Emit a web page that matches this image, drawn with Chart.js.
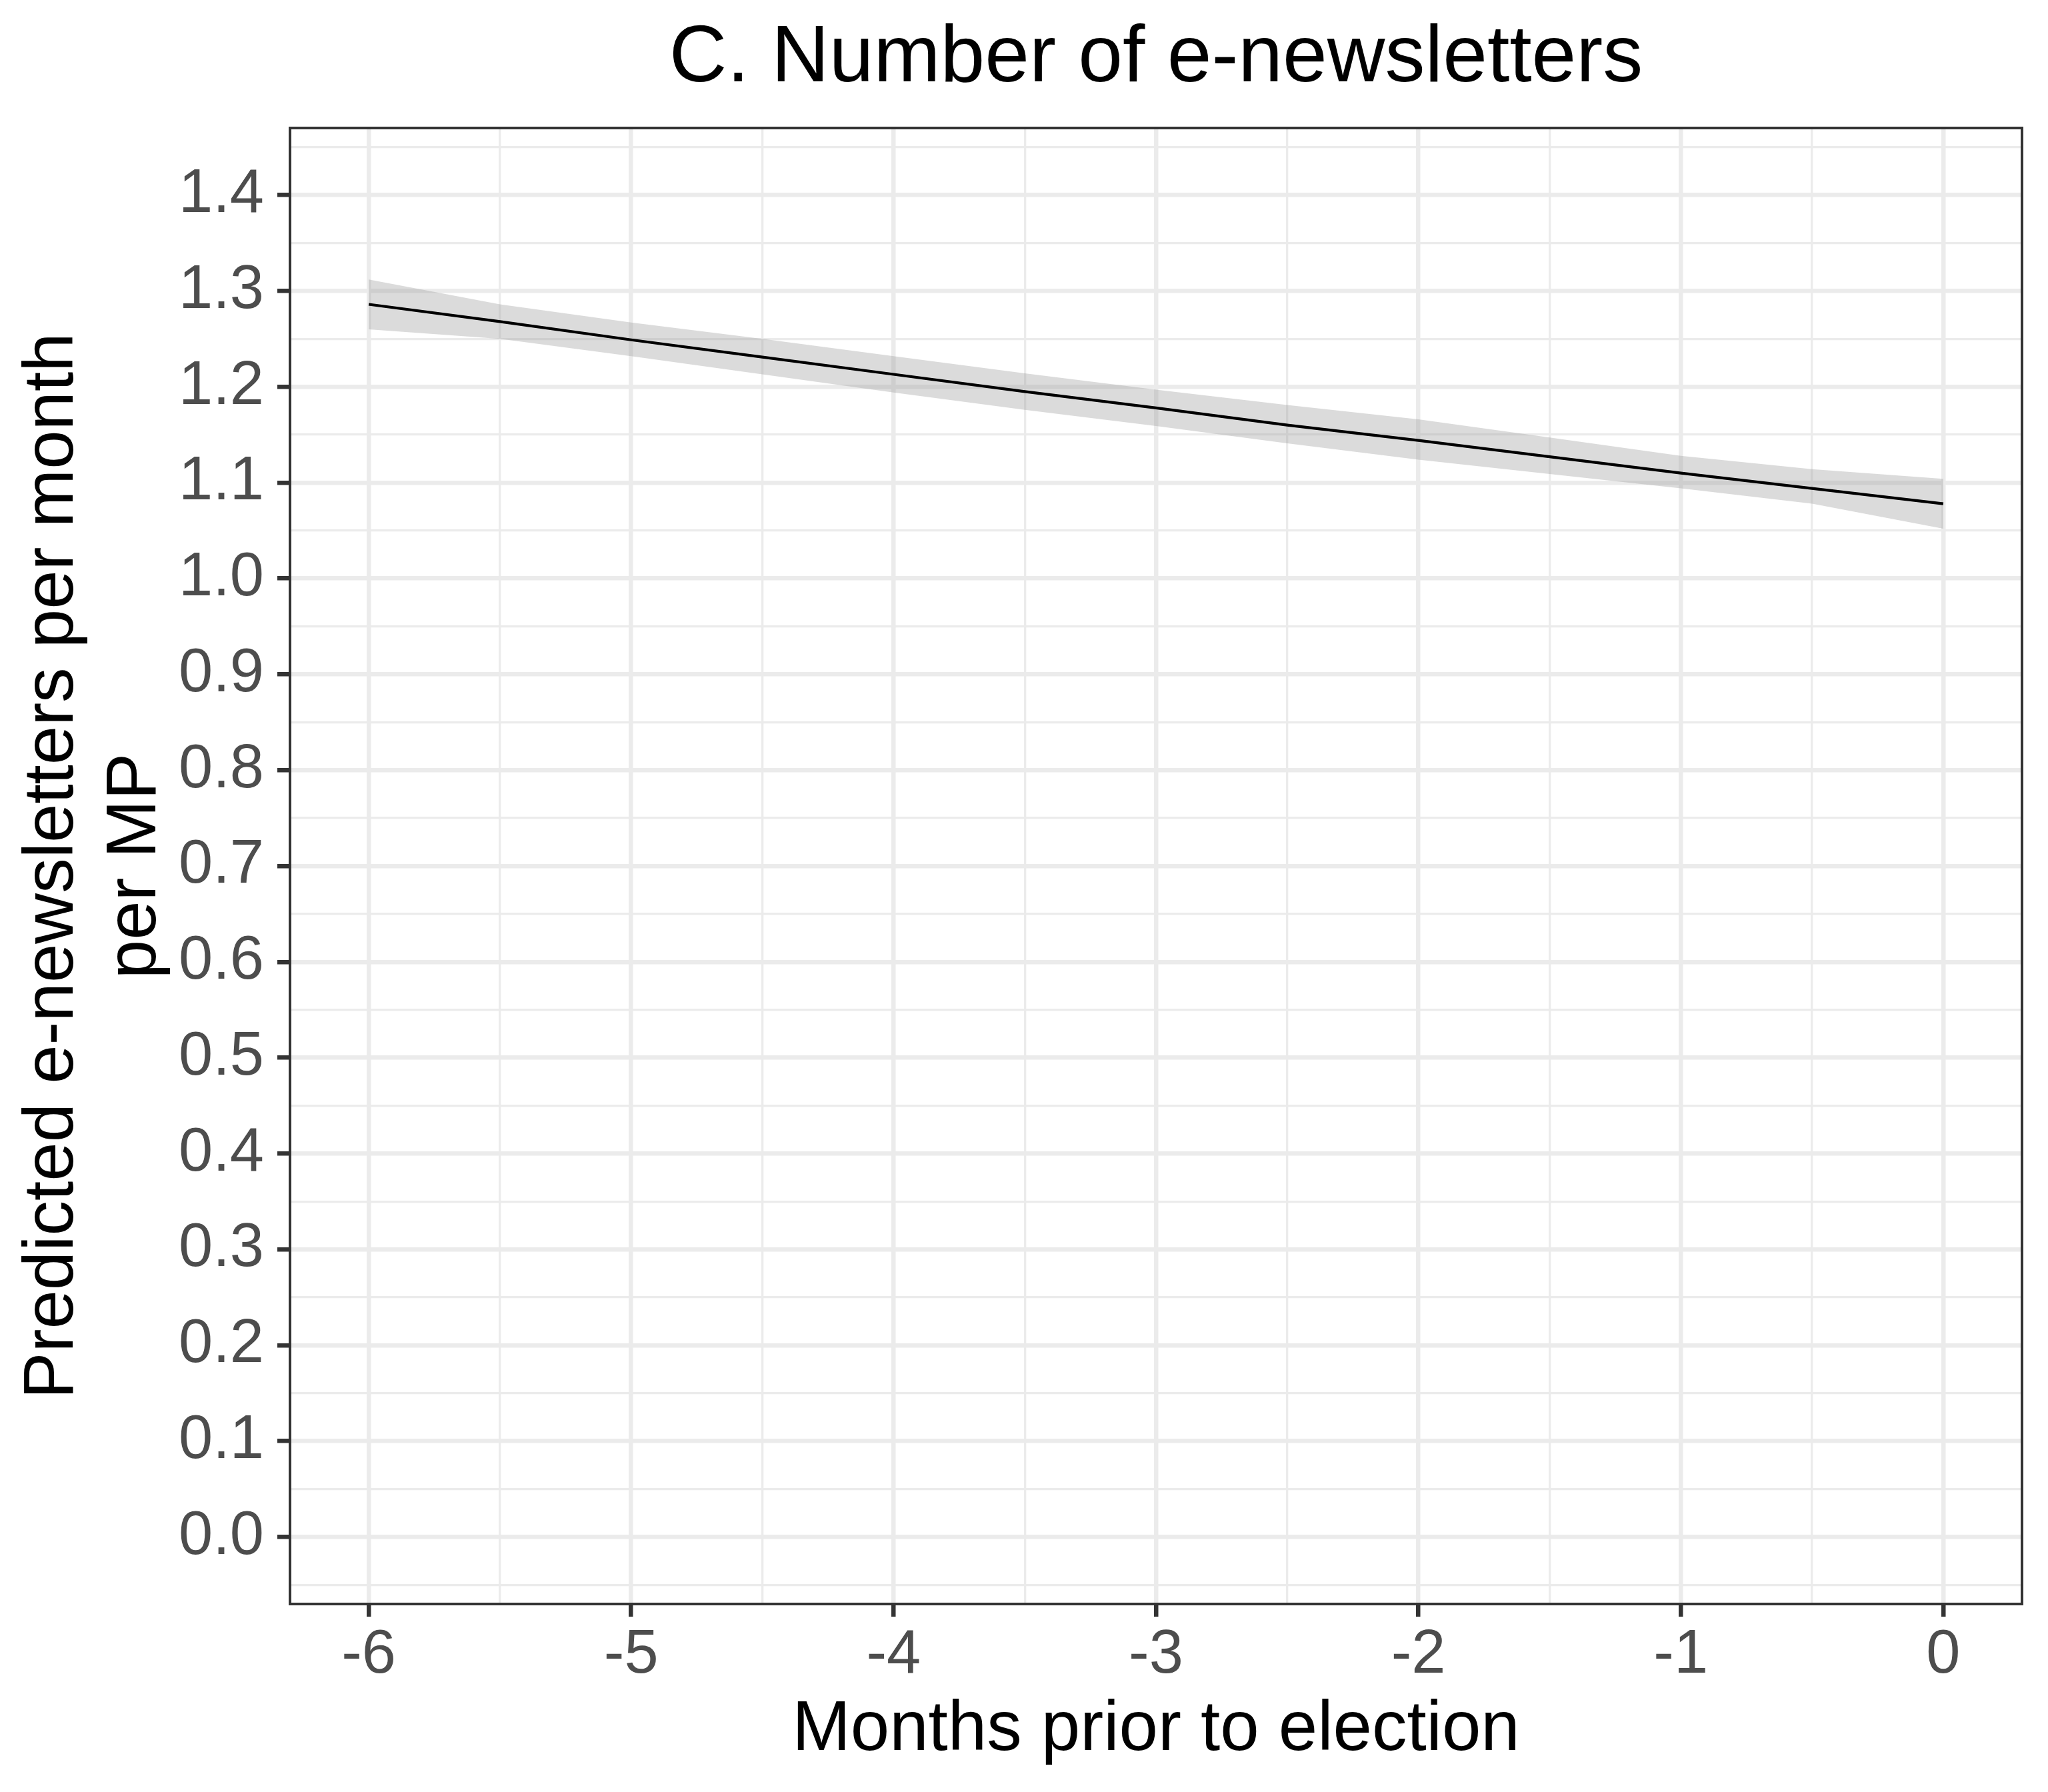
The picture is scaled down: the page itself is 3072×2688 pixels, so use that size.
<!DOCTYPE html>
<html>
<head>
<meta charset="utf-8">
<script src="https://cdn.jsdelivr.net/npm/chart.js@4.4.1/dist/chart.umd.min.js"></script>
<style>
  body { margin: 0; background: #fff; }
  canvas { display: block; }
</style>
</head>
<body>
<canvas id="chart" width="3072" height="2688"></canvas>
<script>
const months = [-6, -5.5, -5, -4.5, -4, -3.5, -3, -2.5, -2, -1.5, -1, -0.5, 0];
// predicted e-newsletters per month per MP
const predicted = [1.286, 1.268, 1.249, 1.231, 1.213, 1.195, 1.178, 1.160, 1.144, 1.127, 1.110, 1.094, 1.078];
// confidence band
const upper = [1.312, 1.286, 1.267, 1.250, 1.232, 1.214, 1.197, 1.181, 1.166, 1.147, 1.128, 1.114, 1.104];
const lower = [1.260, 1.250, 1.232, 1.213, 1.194, 1.176, 1.159, 1.141, 1.124, 1.109, 1.094, 1.078, 1.052];

// axis ticks (labelled) and the minor grid between them
const xTicks = [-6, -5, -4, -3, -2, -1, 0];
const xMinor = [-5.5, -4.5, -3.5, -2.5, -1.5, -0.5];
const yTicks = [0, 0.1, 0.2, 0.3, 0.4, 0.5, 0.6, 0.7, 0.8, 0.9, 1.0, 1.1, 1.2, 1.3, 1.4];
const yMinor = [-0.05, 0.05, 0.15, 0.25, 0.35, 0.45, 0.55, 0.65, 0.75, 0.85, 0.95, 1.05, 1.15, 1.25, 1.35, 1.45];

const FONT = '"Liberation Sans", Arial, sans-serif';

function toPoints(ys) {
    return months.map((m, i) => ({ x: m, y: ys[i] }));
}

function isMajor(list, v) {
    return list.some(t => Math.abs(t - v) < 1e-9);
}

function setTicks(major, minor) {
    return function (axis) {
        let all = major.concat(minor).sort((a, b) => a - b);
        axis.ticks = all.map(v => ({ value: v }));
    };
}

// ggplot-like panel border, drawn on top of everything
const panelBorder = {
    id: 'panelBorder',
    afterDraw(chart) {
        const { ctx, chartArea } = chart;
        ctx.save();
        ctx.strokeStyle = '#333333';
        ctx.lineWidth = 4;
        ctx.strokeRect(chartArea.left, chartArea.top, chartArea.right - chartArea.left, chartArea.bottom - chartArea.top);
        ctx.restore();
    }
};

const gridOpts = (major) => ({
    drawTicks: true,
    tickLength: 19,
    color: '#EBEBEB',
    lineWidth: c => isMajor(major, c.tick.value) ? 6.5 : 3.3,
    tickColor: '#333333',
    tickWidth: c => isMajor(major, c.tick.value) ? 6.5 : 0
});

new Chart(document.getElementById('chart'), {
    type: 'line',
    data: {
        datasets: [
            {
                label: 'Predicted',
                data: toPoints(predicted),
                borderColor: '#000000',
                borderWidth: 4.2,
                pointRadius: 0,
                fill: false,
                tension: 0
            },
            {
                label: 'Upper',
                data: toPoints(upper),
                borderWidth: 0,
                borderColor: 'rgba(0,0,0,0)',
                pointRadius: 0,
                backgroundColor: 'rgba(153,153,153,0.35)',
                fill: '+1',
                tension: 0
            },
            {
                label: 'Lower',
                data: toPoints(lower),
                borderWidth: 0,
                borderColor: 'rgba(0,0,0,0)',
                pointRadius: 0,
                fill: false,
                tension: 0
            }
        ]
    },
    options: {
        responsive: false,
        animation: false,
        devicePixelRatio: 1,
        layout: { padding: { left: 0, right: 39, top: 0, bottom: 0 } },
        plugins: {
            legend: { display: false },
            tooltip: { enabled: false },
            title: {
                display: true,
                text: 'C. Number of e-newsletters',
                fullSize: false,
                color: '#000000',
                font: { family: FONT, size: 120, weight: 'normal', lineHeight: 1.2 },
                padding: { top: 17, bottom: 31 }
            }
        },
        scales: {
            x: {
                type: 'linear',
                min: -6.3,
                max: 0.3,
                afterBuildTicks: setTicks(xTicks, xMinor),
                afterFit: s => { s.height = 282; },
                border: { display: false },
                grid: gridOpts(xTicks),
                ticks: {
                    autoSkip: false,
                    maxRotation: 0,
                    padding: 3,
                    color: '#4D4D4D',
                    font: { family: FONT, size: 92, lineHeight: 1.2 },
                    callback: v => isMajor(xTicks, v) ? String(v) : ''
                },
                title: {
                    display: true,
                    text: 'Months prior to election',
                    color: '#000000',
                    font: { family: FONT, size: 105, lineHeight: 1.2 },
                    padding: { top: 0, bottom: 29 }
                }
            },
            y: {
                type: 'linear',
                min: -0.07,
                max: 1.47,
                afterBuildTicks: setTicks(yTicks, yMinor),
                afterFit: s => { s.width = 435; },
                border: { display: false },
                grid: gridOpts(yTicks),
                ticks: {
                    autoSkip: false,
                    padding: 20,
                    color: '#4D4D4D',
                    font: { family: FONT, size: 92, lineHeight: 1.2 },
                    callback: v => isMajor(yTicks, v) ? v.toFixed(1) : ''
                },
                title: {
                    display: true,
                    text: ['Predicted e-newsletters per month', 'per MP'],
                    color: '#000000',
                    font: { family: FONT, size: 105, lineHeight: 1.18 },
                    padding: { top: 18, bottom: 0 }
                }
            }
        }
    },
    plugins: [panelBorder]
});
</script>
</body>
</html>
